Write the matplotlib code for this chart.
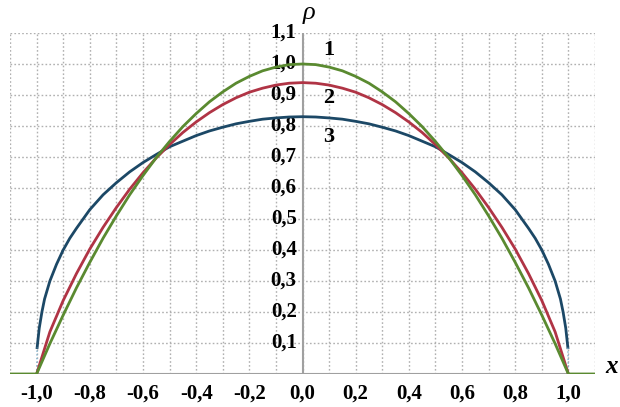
import matplotlib.pyplot as plt

# профили плотности rho(x) для трёх случаев
x_1 = [-1.1, -1.0, -0.95, -0.9, -0.85, -0.8, -0.75, -0.7, -0.65, -0.6, -0.55, -0.5, -0.45,
       -0.4, -0.35, -0.3, -0.25, -0.2, -0.15, -0.1, -0.05, 0.0, 0.05, 0.1, 0.15, 0.2, 0.25,
       0.3, 0.35, 0.4, 0.45, 0.5, 0.55, 0.6, 0.65, 0.7, 0.75, 0.8, 0.85, 0.9, 0.95, 1.0, 1.1]
rho_1 = [0.0, 0.0, 0.098, 0.19, 0.278, 0.36, 0.438, 0.51, 0.578, 0.64, 0.698, 0.75, 0.798,
         0.84, 0.878, 0.91, 0.938, 0.96, 0.978, 0.99, 0.998, 1.0, 0.998, 0.99, 0.978, 0.96, 0.938,
         0.91, 0.878, 0.84, 0.798, 0.75, 0.698, 0.64, 0.578, 0.51, 0.438, 0.36, 0.278, 0.19,
         0.098, 0.0, 0.0]

x_2 = [-1.0, -0.95, -0.9, -0.85, -0.8, -0.75, -0.7, -0.65, -0.6, -0.55, -0.5, -0.45, -0.4,
       -0.35, -0.3, -0.25, -0.2, -0.15, -0.1, -0.05, 0.0, 0.05, 0.1, 0.15, 0.2, 0.25, 0.3,
       0.35, 0.4, 0.45, 0.5, 0.55, 0.6, 0.65, 0.7, 0.75, 0.8, 0.85, 0.9, 0.95, 1.0]
rho_2 = [0.0, 0.136, 0.237, 0.324, 0.403, 0.473, 0.537, 0.596, 0.649, 0.697, 0.740, 0.779,
         0.813, 0.843, 0.869, 0.891, 0.909, 0.922, 0.932, 0.938, 0.94, 0.938, 0.932, 0.922,
         0.909, 0.891, 0.869, 0.843, 0.813, 0.779, 0.740, 0.697, 0.649, 0.596, 0.537, 0.473,
         0.403, 0.324, 0.237, 0.136, 0.0]

x_3 = [-1.0, -0.998, -0.99, -0.98, -0.97, -0.95, -0.925, -0.9, -0.875, -0.85, -0.8, -0.75,
       -0.7, -0.65, -0.6, -0.55, -0.5, -0.45, -0.4, -0.35, -0.3, -0.25, -0.2, -0.15, -0.1,
       -0.05, 0.0, 0.05, 0.1, 0.15, 0.2, 0.25, 0.3, 0.35, 0.4, 0.45, 0.5, 0.55, 0.6, 0.65,
       0.7, 0.75, 0.8, 0.85, 0.875, 0.9, 0.925, 0.95, 0.97, 0.98, 0.99, 0.998, 1.0]
rho_3 = [0.0, 0.085, 0.148, 0.20, 0.242, 0.30, 0.354, 0.40, 0.438, 0.47, 0.53, 0.578,
         0.617, 0.652, 0.682, 0.708, 0.733, 0.751, 0.769, 0.784, 0.796, 0.807, 0.815, 0.822,
         0.826, 0.829, 0.83, 0.829, 0.826, 0.822, 0.815, 0.807, 0.796, 0.784, 0.769, 0.751,
         0.733, 0.708, 0.682, 0.652, 0.617, 0.578, 0.53, 0.47, 0.438, 0.40, 0.354, 0.30,
         0.242, 0.20, 0.148, 0.085, 0.0]

x_ticks = [-1.0, -0.8, -0.6, -0.4, -0.2, 0.0, 0.2, 0.4, 0.6, 0.8, 1.0]
x_grid = [-1.1, -1.0, -0.9, -0.8, -0.7, -0.6, -0.5, -0.4, -0.3, -0.2, -0.1,
          0.0, 0.1, 0.2, 0.3, 0.4, 0.5, 0.6, 0.7, 0.8, 0.9, 1.0, 1.1]
y_ticks = [0.1, 0.2, 0.3, 0.4, 0.5, 0.6, 0.7, 0.8, 0.9, 1.0, 1.1]

curve_labels = ["1", "2", "3"]
label_pos = [(0.10, 1.046), (0.10, 0.89), (0.10, 0.766)]

c_green = "#5a8a30"
c_red = "#b03445"
c_blue = "#1c4866"

serif = "Liberation Serif"

fig = plt.figure(figsize=(6.2, 4.07), dpi=100)
ax = fig.add_axes([10 / 620, 33 / 407, 585 / 620, 341 / 407])
ax.set_xlim(-1.1, 1.1)
ax.set_ylim(0, 1.1)

for s in ax.spines.values():
    s.set_visible(False)

# сетка
ax.set_xticks(x_grid, minor=True)
ax.set_xticks(x_ticks)
ax.set_xticklabels([f"{v:.1f}".replace(".", ",") for v in x_ticks],
                   fontfamily=serif, fontweight="bold", fontsize=15)
ax.set_yticks(y_ticks)
ax.set_yticklabels([])
ax.tick_params(which="both", length=0)
ax.tick_params(axis="x", pad=7)
ax.grid(True, which="both", color="#b0b0b0", linestyle=(0, (1.2, 1.6)), linewidth=1)
ax.set_axisbelow(True)

# оси
ax.axhline(0, color="#a0a0a0", lw=1.5, zorder=1)
ax.axvline(0, color="#a0a0a0", lw=1.5, zorder=1)

for v in y_ticks:
    ax.text(-0.022, v, f"{v:.1f}".replace(".", ","), ha="right", va="center",
            fontfamily=serif, fontweight="bold", fontsize=15, zorder=2)

# кривые
ax.plot(x_3[1:-1], rho_3[1:-1], color=c_blue, lw=2, zorder=3)
ax.plot(x_3[:2], rho_3[:2], color="#7fb3cf", lw=1, ls=":", zorder=3)
ax.plot(x_3[-2:], rho_3[-2:], color="#7fb3cf", lw=1, ls=":", zorder=3)
ax.plot(x_2, rho_2, color=c_red, lw=2, zorder=4)
ax.plot(x_1, rho_1, color=c_green, lw=2, zorder=5)

for txt, (lx, ly) in zip(curve_labels, label_pos):
    ax.text(lx, ly, txt, ha="center", va="center", fontfamily=serif,
            fontweight="bold", fontsize=16, zorder=6)

ax.text(0.0, 1.13, "ρ", ha="left", va="bottom", fontfamily=serif,
        fontstyle="italic", fontsize=19, clip_on=False)
ax.text(1.14, 0.025, "x", ha="left", va="center", fontfamily=serif,
        fontstyle="italic", fontweight="bold", fontsize=18, clip_on=False)

fig.savefig("out.png", dpi=100)
